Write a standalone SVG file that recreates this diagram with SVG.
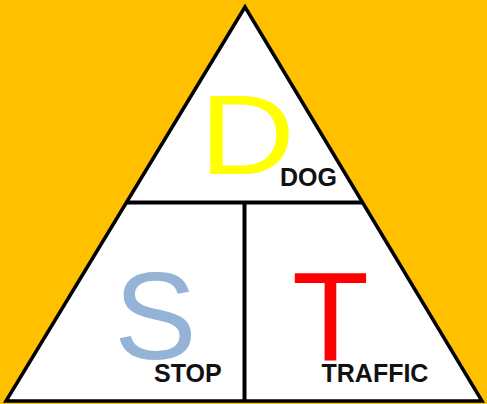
<svg xmlns="http://www.w3.org/2000/svg" width="487" height="404" viewBox="0 0 487 404">
<style>
.big{font-family:"Liberation Sans",Arial,sans-serif;font-weight:normal}
.lbl{font-family:"Liberation Sans",Arial,sans-serif;font-weight:bold;font-size:25px;fill:#111}
.edge{stroke:#000;stroke-width:4;fill:none}
</style>
<rect x="0" y="0" width="487" height="404" fill="#FFC000"/>
<g id="triangle">
<polygon points="245,7 6,401 482,401" fill="#FFFFFF" stroke="#000" stroke-width="3.5" stroke-linejoin="miter"/>
</g>
<g id="connectors">
<line class="edge" x1="127" y1="202.5" x2="363" y2="202.5"/>
<line class="edge" x1="244.5" y1="202.5" x2="244.5" y2="401" stroke-width="4.5"/>
</g>
<g id="distance">
<text class="big" font-size="114" fill="#FFFF00" transform="translate(199.6,174) scale(1.16,1)">D</text>
<text class="lbl" x="280" y="185.5">DOG</text>
</g>
<g id="speed">
<text class="big" font-size="124" fill="#95B3D7" x="114" y="358.5">S</text>
<text class="lbl" x="154" y="381.5">STOP</text>
</g>
<g id="time">
<text class="big" font-size="126" fill="#FF0000" x="330.5" y="360" text-anchor="middle">T</text>
<text class="lbl" x="321.5" y="381.5">TRAFFIC</text>
</g>
</svg>
